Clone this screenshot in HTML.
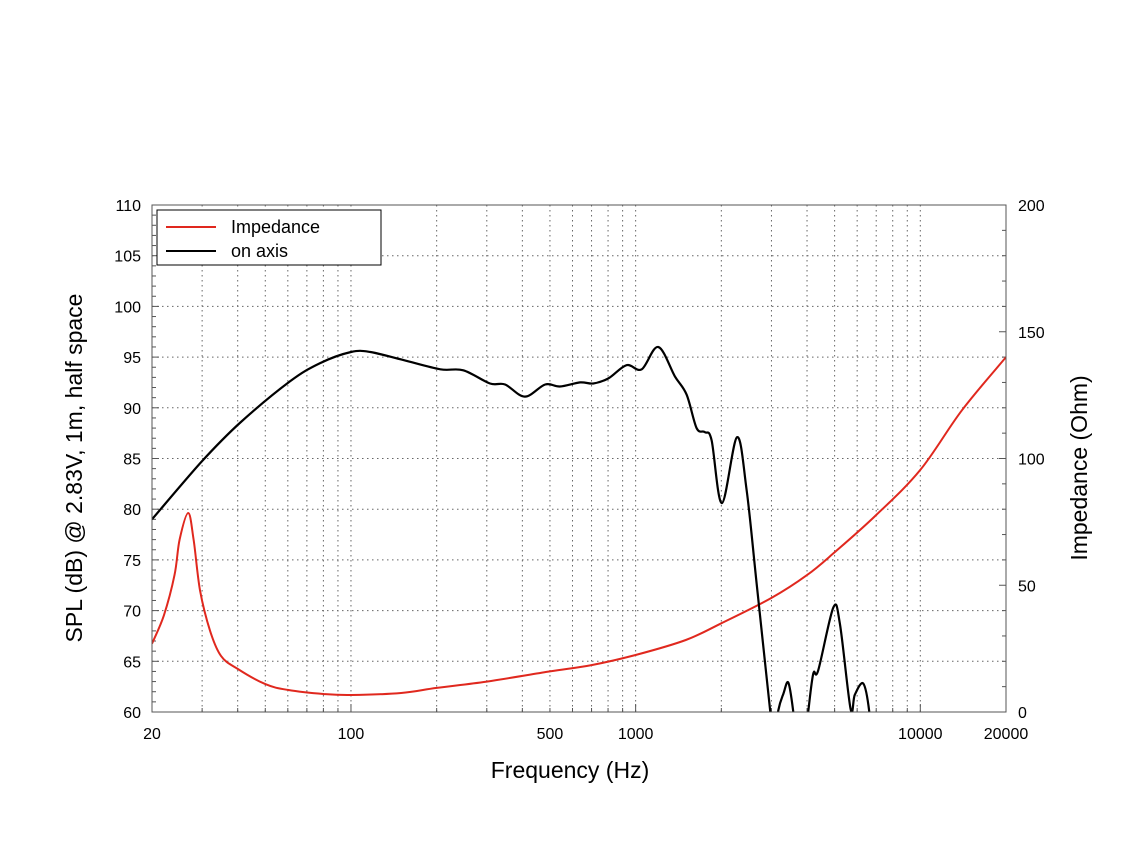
<!DOCTYPE html>
<html><head><meta charset="utf-8"><style>
html,body{margin:0;padding:0;background:#fff;}
svg{display:block;font-family:"Liberation Sans",sans-serif;}
</style></head><body>
<svg id="chart" width="1146" height="859" viewBox="0 0 1146 859">
<defs><clipPath id="plotclip"><rect x="152" y="205" width="854" height="507"/></clipPath></defs>
<g id="grid"></g>
<g id="axes"></g>
<g clip-path="url(#plotclip)">
<path id="imp" fill="none" stroke="#e0281e" stroke-width="2"/>
<path id="spl" fill="none" stroke="#000" stroke-width="2.2"/>
</g>
<rect x="152" y="205" width="854" height="507" fill="none" stroke="#555" stroke-width="1"/>
<g>
<rect x="157" y="210" width="224" height="55" fill="#fff" stroke="#000" stroke-width="1"/>
<line x1="166" y1="227" x2="216" y2="227" stroke="#e0281e" stroke-width="2"/>
<text x="231" y="233" font-size="18">Impedance</text>
<line x1="166" y1="251" x2="216" y2="251" stroke="#000" stroke-width="2"/>
<text x="231" y="257" font-size="18">on axis</text>
</g>
<text x="570" y="778" font-size="23" text-anchor="middle">Frequency (Hz)</text>
<text transform="translate(82,468) rotate(-90)" font-size="23" text-anchor="middle">SPL (dB) @ 2.83V, 1m, half space</text>
<text transform="translate(1087,468) rotate(-90)" font-size="23" text-anchor="middle">Impedance (Ohm)</text>
</svg>
<script>
const splFreq=[20,29.9,40.7,61,77.8,100,117,153,206,248,308,348,408,481,542,638,710,802,929,1050,1200,1374,1510,1638,1750,1848,2010,2270,2454,2661,2966,3050,3172,3304,3438,3580,3700,3900,4038,4208,4380,4946,5220,5690,5888,6306,6620,6700];
const splValues=[79.0,84.7,88.5,92.6,94.4,95.5,95.5,94.7,93.8,93.7,92.4,92.3,91.1,92.3,92.1,92.5,92.4,92.9,94.2,93.8,96.0,93.1,91.3,88.0,87.6,86.8,80.6,87.1,81.9,72.7,60.2,57,60.2,61.8,62.9,60,56,56,60,63.8,64.1,70.3,68.7,60.3,61.7,62.8,60,57];
const impFreq=[20,22,24,25,26.8,28,29.5,32,35,40,50,60,80,100,150,200,300,500,700,1000,1500,2000,3000,4000,5000,7000,10000,14000,20000];
const impValues=[27,38,54,68,78.5,68,48,32,22,17,11,8.7,7.1,6.7,7.5,9.5,12,16,18.5,22.5,28.4,35,45,54,63,77.7,95.5,119,140];
const xTicks=[20,100,500,1000,10000,20000];
const leftTicks=[60,65,70,75,80,85,90,95,100,105,110];
const rightTicks=[0,50,100,150,200];
const X0=152,X1=1006,Y0=712,Y1=205;
function xs(f){return X0+Math.log10(f/20)/3*(X1-X0);}
function yl(v){return Y0-(v-60)/50*(Y0-Y1);}
function yr(v){return Y0-v/200*(Y0-Y1);}
const NS="http://www.w3.org/2000/svg";
function mk(tag,attrs,parent){const e=document.createElementNS(NS,tag);for(const k in attrs)e.setAttribute(k,attrs[k]);parent.appendChild(e);return e;}
const grid=document.getElementById('grid'),axes=document.getElementById('axes');
// vertical grid
for(let d=10;d<=10000;d*=10){for(let m=1;m<10;m++){const f=d*m;if(f<=20||f>=20000)continue;
 const l=mk('line',{x1:xs(f),x2:xs(f),y1:Y1,y2:Y0,stroke:'#666','stroke-width':1,'stroke-dasharray':'1.5,3.5'},grid);
 
 
 const t=mk('line',{x1:xs(f),x2:xs(f),y1:Y0,y2:Y0-(m===1?8:4),stroke:'#555','stroke-width':1},axes);
 
 }}
// horizontal grid
leftTicks.forEach(v=>{if(v>60&&v<110){const l=mk('line',{x1:X0,x2:X1,y1:yl(v),y2:yl(v),stroke:'#666','stroke-width':1,'stroke-dasharray':'1.5,3.5'},grid);
 
 }
 const t=mk('text',{x:141,y:yl(v)+6,'font-size':16,'text-anchor':'end'},axes);t.textContent=v;
 
 });
for(let v=60;v<=110;v++){const tk=mk('line',{x1:X0,x2:X0+(v%5===0?7:4),y1:yl(v),y2:yl(v),stroke:'#555','stroke-width':1},axes);
 
 }
for(let v=0;v<=200;v+=10){const tk=mk('line',{x1:X1,x2:X1-(v%50===0?7:4),y1:yr(v),y2:yr(v),stroke:'#555','stroke-width':1},axes);
 
 }
rightTicks.forEach(v=>{const t=mk('text',{x:1018,y:yr(v)+6,'font-size':16},axes);t.textContent=v;
 
 });
xTicks.forEach(f=>{const t=mk('text',{x:xs(f),y:739,'font-size':16,'text-anchor':'middle'},axes);t.textContent=f;
 
 });
function smooth(pts){let d='M'+pts[0][0].toFixed(1)+','+pts[0][1].toFixed(1);
 for(let i=0;i<pts.length-1;i++){const p0=pts[Math.max(0,i-1)],p1=pts[i],p2=pts[i+1],p3=pts[Math.min(pts.length-1,i+2)];
 const c1=[p1[0]+(p2[0]-p0[0])/6,p1[1]+(p2[1]-p0[1])/6],c2=[p2[0]-(p3[0]-p1[0])/6,p2[1]-(p3[1]-p1[1])/6];
 d+=' C'+c1[0].toFixed(1)+','+c1[1].toFixed(1)+' '+c2[0].toFixed(1)+','+c2[1].toFixed(1)+' '+p2[0].toFixed(1)+','+p2[1].toFixed(1);}
 return d;}
document.getElementById('spl').setAttribute('d',smooth(splFreq.map((f,i)=>[xs(f),yl(splValues[i])])));
document.getElementById('imp').setAttribute('d',smooth(impFreq.map((f,i)=>[xs(f),yr(impValues[i])])));
</script>
</body></html>
